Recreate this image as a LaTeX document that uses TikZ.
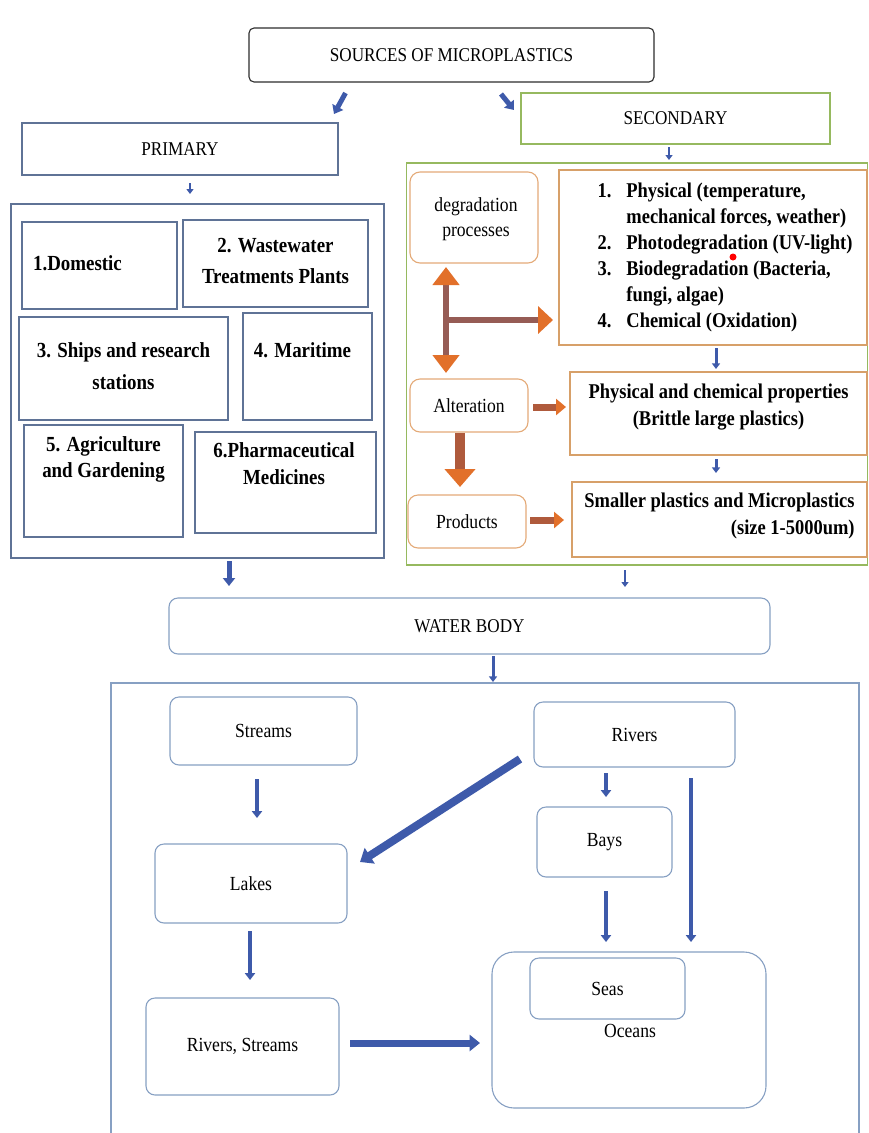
\documentclass[tikz,border=0pt]{standalone}
\usepackage{fontspec}
\setmainfont{Liberation Serif}[FakeStretch=0.88]
\usetikzlibrary{arrows.meta,calc}
\definecolor{ablue}{RGB}{62,90,170}
\definecolor{pcol}{RGB}{95,115,150}
\definecolor{wcol}{RGB}{135,160,195}
\definecolor{srccol}{RGB}{45,45,45}
\definecolor{gcol}{RGB}{150,185,95}
\definecolor{ocol}{RGB}{228,170,120}
\definecolor{tcol}{RGB}{215,160,105}
\definecolor{mauve}{RGB}{150,92,85}
\definecolor{brn}{RGB}{175,90,60}
\definecolor{oran}{RGB}{226,112,42}
\newcommand{\place}[3]{\raisebox{\dimexpr #2-5pt\relax}[0pt][0pt]{\makebox[0pt]{\hspace*{#1}\hspace*{#1}\begin{tabular}{@{}c@{}}#3\end{tabular}}}}
\tikzset{
  bx/.style={draw, line width=1.1pt, rectangle, inner sep=0pt, outer sep=0pt, align=center, font=\fontsize{20}{24}\selectfont},
  sz/.style 2 args={minimum width=#1, minimum height=#2},
  ttl/.style={font=\fontsize{19.5}{23}\selectfont},
  pbox/.style={bx, draw=pcol, font=\bfseries\fontsize{21.5}{25}\selectfont},
  rbox/.style={bx, draw=ocol, rounded corners=10pt},
  tbox/.style={bx, draw=tcol, font=\bfseries\fontsize{21}{26}\selectfont},
  wbox/.style={bx, draw=wcol, rounded corners=9pt},
  barr/.style={draw=ablue, line width=#1, -{Triangle[length=2pt 1.2, width=2pt 2]}},
}
\begin{document}
\begin{tikzpicture}[x=1pt,y=-1pt]
\fill[white] (0,0) rectangle (869,1133);
\useasboundingbox (0,0) rectangle (869,1133);

% top
\node[bx, ttl, draw=srccol, rounded corners=5pt, sz={405}{54}] (src) at (451.5,55) {SOURCES OF MICROPLASTICS};
\node[bx, ttl, draw=pcol, sz={316}{52}] (prim) at (180,149) {PRIMARY};
\node[bx, ttl, draw=gcol, sz={309}{51}] (sec) at (675.5,118.5) {SECONDARY};

% primary container
\node[bx, draw=pcol, sz={373}{354}] (pcont) at (197.5,381) {};
\node[pbox, sz={155}{87}] (dom) at (99.5,265.5) {\place{-22pt}{0pt}{1.Domestic}};
\node[pbox, sz={185}{87}] (ww) at (275.5,263.5) {\place{0pt}{0pt}{2. Wastewater\\[6pt]Treatments Plants}};
\node[pbox, sz={209}{103}] (ships) at (123.5,368.5) {\place{0pt}{0pt}{3. Ships and research\\[7pt]stations}};
\node[pbox, sz={129}{107}] (mar) at (307.5,366.5) {\place{-5pt}{13.5pt}{4. Maritime}};
\node[pbox, sz={159}{112}] (agri) at (103.5,481) {\place{0pt}{21pt}{5. Agriculture\\[1pt]and Gardening}};
\node[pbox, sz={181}{101}] (pharm) at (285.5,482.5) {\place{-1.5pt}{16pt}{6.Pharmaceutical\\[2pt]Medicines}};

% secondary container
\node[bx, draw=gcol, sz={461}{402}] (scont) at (637,364) {};
\node[rbox, sz={128}{91}] (deg) at (474,217.5) {\place{2pt}{-2pt}{degradation\\[1pt]processes}};
\node[tbox, sz={308}{175}] (list) at (713,257.5) {\place{12pt}{0pt}{%
  \begin{tabular}{@{}r@{\hspace{15pt}}l@{}}
  1. & Physical (temperature,\\
     & mechanical forces, weather)\\
  2. & Photodegradation (UV-light)\\
  3. & Biodegradation (Bacteria,\\
     & fungi, algae)\\
  4. & Chemical (Oxidation)
  \end{tabular}}};
\node[rbox, sz={118}{53}] (alt) at (469,405.5) {Alteration};
\node[tbox, sz={297}{83}] (props) at (718.5,413.5) {\place{0pt}{7pt}{Physical and chemical properties\\[1pt](Brittle large plastics)}};
\node[rbox, sz={118}{53}] (prod) at (467,521.5) {Products};
\node[tbox, sz={295}{75}] (small) at (719.5,519.5) {\raisebox{-1pt}[0pt][0pt]{\makebox[0pt]{\begin{tabular}{@{}r@{}}Smaller plastics and Microplastics\\[1pt](size 1-5000um)\hspace{7pt}\end{tabular}}}};
\fill[red] (733,257) circle (3.5);

% water body
\node[wbox, ttl, sz={601}{56}] (water) at (469.5,626) {WATER BODY};
\draw[draw=wcol, line width=1.1pt] (111,1133) -- (111,683) -- (859,683) -- (859,1133);
\coordinate (wtop) at (493,682);
\node[wbox, sz={187}{68}] (streams) at (263.5,731) {Streams};
\node[wbox, sz={201}{65}] (rivers) at (634.5,734.5) {Rivers};
\node[wbox, sz={192}{79}] (lakes) at (251,883.5) {Lakes};
\node[wbox, sz={135}{70}] (bays) at (604.5,842) {Bays};
\node[wbox, sz={193}{97}] (rs) at (242.5,1046.5) {Rivers, Streams};
\node[wbox, rounded corners=22pt, sz={274}{156}] (oceans) at (629,1030) {\place{1pt}{-3pt}{Oceans}};
\node[wbox, sz={155}{61}] (seas) at (607.5,988.5) {Seas};

% blue arrows
\draw[barr=5] ($(src.south)+(-106,11)$) -- ($(prim.north)+(154,-9)$);
\draw[barr=5] ($(src.south)+(49.5,12)$) -- ($(sec.north)+(-161.5,17)$);
\draw[barr=2.5] ($(prim.south)+(10,8)$) -- ($(pcont.north)+(-7.5,-10)$);
\draw[barr=5] ($(pcont.south)+(31.5,3)$) -- ($(water.north)+(-240.5,-12)$);
\draw[barr=2.5] ($(sec.south)+(-6.5,3)$) -- ($(scont.north)+(32,-3)$);
\draw[barr=2.5] ($(scont.south)+(-12,5)$) -- ($(water.north)+(155.5,-11)$);
\draw[barr=3] ($(list.south)+(3,3)$) -- ($(props.north)+(-2.5,-3)$);
\draw[barr=3] ($(props.south)+(-2.5,4)$) -- ($(small.north)+(-3.5,-9)$);
\draw[barr=3] ($(water.south)+(23.5,2)$) -- (wtop);
\draw[barr=4] ($(streams.south)+(-6.5,14)$) -- ($(lakes.north)+(6,-26)$);
\draw[barr=8] ($(rivers.south west)+(-14,-8)$) -- ($(lakes.north east)+(13,18)$);
\draw[barr=4] ($(rivers.south)+(-28.5,6)$) -- ($(bays.north)+(1.5,-10)$);
\draw[barr=4] ($(bays.south)+(1.5,14)$) -- ($(oceans.north)+(-23,-10)$);
\draw[barr=4] ($(rivers.south)+(56.5,11)$) -- ($(oceans.north)+(62,-10)$);
\draw[barr=4] ($(lakes.south)+(-1,8)$) -- ($(rs.north)+(7.5,-18)$);
\draw[barr=7] ($(rs.east)+(11,-3.5)$) -- ($(oceans.west)+(-12,13)$);

% orange arrows
\draw[draw=mauve, line width=6pt, {Triangle[length=18pt,width=26pt,color=oran]}-{Triangle[length=18pt,width=26pt,color=oran]}] ($(deg.south)+(-28,4)$) -- ($(alt.north)+(-23,-6)$);
\coordinate (br) at (446,320);
\draw[draw=mauve, line width=6pt, -{Triangle[length=15pt,width=27pt,color=oran]}] (br) -- ($(list.west)+(-6,62.5)$);
\draw[draw=brn, line width=7pt, -{Triangle[length=10pt,width=16pt,color=oran]}] ($(alt.east)+(5,1.5)$) -- ($(props.west)+(-4,-6.5)$);
\draw[draw=brn, line width=10pt, -{Triangle[length=18pt,width=30pt,color=oran]}] ($(alt.south)+(-9,1)$) -- ($(prod.north)+(-7,-8)$);
\draw[draw=brn, line width=7pt, -{Triangle[length=10pt,width=16pt,color=oran]}] ($(prod.east)+(4,-1.5)$) -- ($(small.west)+(-8,0.5)$);
\end{tikzpicture}
\end{document}
